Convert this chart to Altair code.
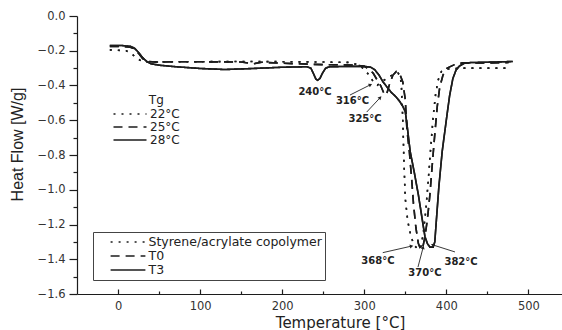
import math
import altair as alt
import pandas as pd

# ---------------- data ----------------
series_names = ["Styrene/acrylate copolymer", "T0", "T3"]
tg_names = ["22°C", "25°C", "28°C"]

cop_T = [-10, 0, 10, 16, 22, 28, 35, 50, 100, 150, 200, 250, 280, 292, 300, 305, 310, 316,
         321, 327, 334, 341, 344, 345.5, 347, 348.5, 350, 353, 357, 361, 366, 369, 372, 375,
         378, 381, 384, 387, 390, 394, 400, 420, 450, 476]
cop_V = [-0.195, -0.197, -0.200, -0.215, -0.240, -0.258, -0.264, -0.264, -0.263, -0.262,
         -0.263, -0.265, -0.267, -0.280, -0.305, -0.335, -0.370, -0.398, -0.380, -0.360,
         -0.340, -0.328, -0.345, -0.420, -0.600, -0.850, -1.050, -1.180, -1.270, -1.320,
         -1.345, -1.330, -1.250, -1.120, -0.950, -0.760, -0.580, -0.450, -0.370, -0.320,
         -0.305, -0.300, -0.300, -0.300]

t0_T = [-10, 5, 15, 20, 25, 30, 35, 45, 80, 120, 150, 165, 175, 200, 250, 290, 300, 306,
        311, 316, 320, 324, 327, 331, 335, 339, 343, 347, 350, 352, 355, 358, 360, 363, 366,
        369, 371, 374, 377, 380, 383, 386, 389, 392, 396, 401, 410, 420, 450, 476]
t0_V = [-0.175, -0.176, -0.180, -0.190, -0.215, -0.245, -0.262, -0.265, -0.263, -0.264,
        -0.265, -0.275, -0.266, -0.272, -0.280, -0.282, -0.290, -0.305, -0.330, -0.370,
        -0.400, -0.445, -0.455, -0.390, -0.340, -0.320, -0.330, -0.380, -0.480, -0.650,
        -0.780, -0.950, -1.080, -1.220, -1.310, -1.345, -1.340, -1.270, -1.170, -1.030,
        -0.850, -0.680, -0.520, -0.410, -0.340, -0.300, -0.280, -0.270, -0.270, -0.268]

t3_T = [-10, 5, 15, 20, 25, 30, 35, 40, 50, 70, 100, 130, 160, 200, 230, 235, 238, 241,
        243, 246, 249, 253, 258, 280, 300, 308, 313, 318, 323, 328, 333, 338, 343, 347, 350,
        352, 356, 361, 366, 370, 374, 377, 380, 384, 386, 388, 391, 395, 400, 404, 408, 412,
        416, 422, 430, 450, 481]
t3_V = [-0.170, -0.170, -0.175, -0.185, -0.210, -0.240, -0.262, -0.275, -0.283, -0.292,
        -0.302, -0.308, -0.303, -0.295, -0.292, -0.300, -0.330, -0.362, -0.370, -0.360,
        -0.330, -0.300, -0.292, -0.290, -0.290, -0.295, -0.310, -0.340, -0.380, -0.410,
        -0.440, -0.462, -0.490, -0.520, -0.550, -0.620, -0.780, -0.900, -1.030, -1.150,
        -1.270, -1.310, -1.330, -1.330, -1.300, -1.170, -0.980, -0.780, -0.600, -0.460,
        -0.360, -0.310, -0.288, -0.272, -0.268, -0.266, -0.262]

label_texts = ["240°C", "316°C", "325°C", "368°C", "370°C", "382°C"]
label_T = [240, 285.7, 301, 316.7, 374, 418]
label_V = [-0.435, -0.492, -0.590, -1.410, -1.479, -1.413]

arrow_T1 = [282.6, 303, 322.6, 365.5, 410.6]
arrow_V1 = [-0.455, -0.553, -1.362, -1.445, -1.358]
arrow_T2 = [307, 319, 357, 371.6, 384]
arrow_V2 = [-0.397, -0.472, -1.325, -1.335, -1.318]

tg_title = "Tg"
tg_title_T = 46.6
tg_title_V = -0.486

x_ticks_major = [0, 100, 200, 300, 400, 500]
x_ticks_minor = [50, 150, 250, 350, 450]
y_ticks_major = [-1.6, -1.4, -1.2, -1.0, -0.8, -0.6, -0.4, -0.2, 0.0]
y_ticks_minor = [-1.5, -1.3, -1.1, -0.9, -0.7, -0.5, -0.3, -0.1]

# ---------------- build tables ----------------
rows = []
for name, tg, TT, VV in zip(series_names, tg_names, [cop_T, t0_T, t3_T], [cop_V, t0_V, t3_V]):
    for t, v in zip(TT, VV):
        rows.append({"T": t, "V": v, "sample": name, "tg": tg})
lines_df = pd.DataFrame(rows)

labels_df = pd.DataFrame({"T": label_T, "V": label_V, "txt": label_texts})

W, H = 485, 278
XD = [-50, 541]
YD = [-1.6, 0]
kx = W / (XD[1] - XD[0])
ky = H / (YD[1] - YD[0])
angles = []
for a, b, c, d in zip(arrow_T1, arrow_V1, arrow_T2, arrow_V2):
    dx = (c - a) * kx
    dy = -(d - b) * ky
    angles.append(math.degrees(math.atan2(dx, -dy)) % 360)
arrows_df = pd.DataFrame({"T": arrow_T1, "V": arrow_V1, "T2": arrow_T2, "V2": arrow_V2, "ang": angles})
tg_df = pd.DataFrame({"T": [tg_title_T], "V": [tg_title_V], "txt": [tg_title]})

xscale = alt.Scale(domain=XD, nice=False, zero=False)
yscale = alt.Scale(domain=YD, nice=False, zero=False)
dash_range = [[2, 6], [9, 6], [1, 0]]
INK = "#1c1c1c"

bottom_axis = alt.Axis(
    orient="bottom", values=x_ticks_major, tickSize=0, grid=False,
    labelFont="DejaVu Sans", labelFontSize=11.5, labelColor="#333", labelPadding=6,
    labelFlush=False, domainColor=INK, domainWidth=1.2,
    title="Temperature [°C]", titleFont="DejaVu Sans", titleFontSize=15,
    titleFontWeight="normal", titleColor="#222", titleX=263, titleY=28,
    titleAlign="center", titleBaseline="middle",
)
x_major_ticks = alt.Axis(
    orient="top", offset=-H, values=x_ticks_major, labels=False, domain=False, grid=False,
    title=None, tickColor=INK, tickWidth=1.2, tickSize=5,
)
x_minor_ticks = alt.Axis(
    orient="top", offset=-H, values=x_ticks_minor, labels=False, domain=False, grid=False,
    title=None, tickColor=INK, tickWidth=1.2, tickSize=3,
)
y_axis = alt.Axis(
    orient="left", values=y_ticks_major, format=".1f", grid=False, tickColor=INK, tickWidth=1.2,
    tickSize=8, labelFont="DejaVu Sans", labelFontSize=11.5, labelColor="#333", labelPadding=4,
    domainColor=INK, domainWidth=1.2,
    title="Heat Flow [W/g]", titleFont="Liberation Sans", titleFontSize=16,
    titleFontWeight="normal", titleColor="#222", titleX=-60, titleY=128,
    titleAngle=270, titleAlign="center", titleBaseline="middle",
)
y_minor = alt.Axis(
    orient="left", values=y_ticks_minor, labels=False, domain=False, grid=False,
    title=None, tickColor=INK, tickWidth=1.2, tickSize=4,
)

legend_samples = alt.Legend(
    title=None, orient="none", legendX=16, legendY=216, padding=3,
    strokeColor="#444", symbolType="M-2.9,0H2.9", symbolSize=144, symbolStrokeWidth=1.6,
    symbolStrokeColor=INK, symbolOffset=25, labelOffset=13.5, rowPadding=-2,
    labelFont="DejaVu Sans", labelFontSize=12.5, labelColor="#222", labelLimit=400,
)
legend_tg = alt.Legend(
    title=None, orient="none", legendX=46, legendY=91, padding=0,
    symbolType="M-2.75,0H2.75", symbolSize=144, symbolStrokeWidth=1.6,
    symbolStrokeColor=INK, symbolOffset=0, labelOffset=13, rowPadding=-0.7,
    labelFont="DejaVu Sans", labelFontSize=12, labelColor="#222", labelLimit=200,
)

lines_a = alt.Chart(lines_df).mark_line(strokeWidth=1.6, color=INK).encode(
    x=alt.X("T:Q", scale=xscale, axis=bottom_axis),
    y=alt.Y("V:Q", scale=yscale, axis=y_axis),
    strokeDash=alt.StrokeDash("sample:N", scale=alt.Scale(domain=series_names, range=dash_range),
                              legend=legend_samples),
)
lines_b = alt.Chart(lines_df).mark_line(strokeWidth=1.6, color=INK).encode(
    x=alt.X("T:Q", scale=xscale, axis=x_major_ticks),
    y=alt.Y("V:Q", scale=yscale, axis=y_minor),
    strokeDash=alt.StrokeDash("tg:N", scale=alt.Scale(domain=tg_names, range=dash_range),
                              legend=legend_tg),
)
arrow_lines = alt.Chart(arrows_df).mark_rule(color="#222", strokeWidth=0.9).encode(
    x=alt.X("T:Q", scale=xscale, axis=x_minor_ticks),
    y=alt.Y("V:Q", scale=yscale, axis=None),
    x2="T2:Q", y2="V2:Q",
)
arrow_heads = alt.Chart(arrows_df).mark_point(shape="triangle", filled=True, size=16,
                                              color="#222", opacity=1).encode(
    x=alt.X("T2:Q", scale=xscale, axis=None),
    y=alt.Y("V2:Q", scale=yscale, axis=None),
    angle=alt.Angle("ang:Q", scale=None),
)
texts = alt.Chart(labels_df).mark_text(font="DejaVu Sans", fontWeight="bold", fontSize=10,
                                       color="#222").encode(
    x=alt.X("T:Q", scale=xscale, axis=None),
    y=alt.Y("V:Q", scale=yscale, axis=None),
    text="txt:N",
)
tg_text = alt.Chart(tg_df).mark_text(font="DejaVu Sans", fontSize=12, color="#222").encode(
    x=alt.X("T:Q", scale=xscale, axis=None),
    y=alt.Y("V:Q", scale=yscale, axis=None),
    text="txt:N",
)

chart = alt.layer(lines_a, lines_b, arrow_lines, arrow_heads, texts, tg_text).resolve_scale(
    strokeDash="independent"
).resolve_legend(strokeDash="independent").resolve_axis(x="independent", y="independent").properties(
    width=W, height=H,
    autosize=alt.AutoSizeParams(type="none"),
    padding={"left": 77, "top": 16, "right": 0, "bottom": 36},
    background="white",
).configure_view(strokeWidth=0)

chart.save("out.html", embed_options={"renderer": "svg", "actions": False})
